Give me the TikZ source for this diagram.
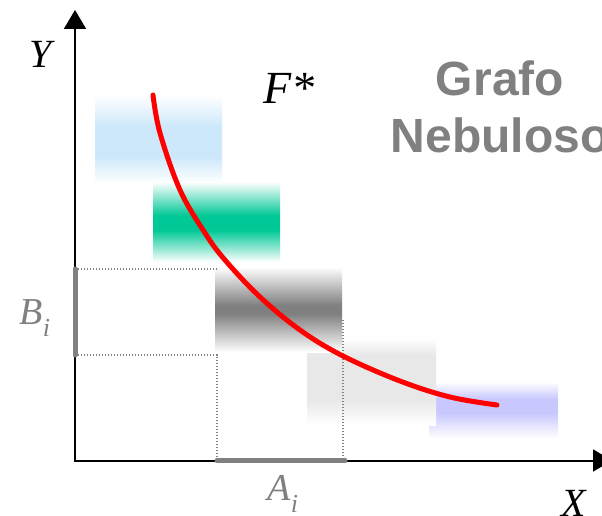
\documentclass[tikz,border=0pt]{standalone}
\usepackage{fontspec}
\setmainfont{Liberation Serif}
\newfontfamily\arialf{Liberation Sans}
\usetikzlibrary{arrows.meta}
\definecolor{fzblue}{RGB}{204,232,250}
\definecolor{fzgreen}{RGB}{0,200,150}
\definecolor{fzdark}{RGB}{128,128,128}
\definecolor{fzlight}{RGB}{232,232,232}
\definecolor{fzlav}{RGB}{200,200,255}
\definecolor{txtgray}{RGB}{128,128,128}
\pgfdeclareverticalshading{shblue}{100bp}{color(0bp)=(white); color(25bp)=(white); color(40bp)=(fzblue); color(57bp)=(fzblue); color(75bp)=(white); color(100bp)=(white)}
\pgfdeclareverticalshading{shgreen}{100bp}{color(0bp)=(white); color(25bp)=(white); color(45bp)=(fzgreen); color(54bp)=(fzgreen); color(75bp)=(white); color(100bp)=(white)}
\pgfdeclareverticalshading{shdark}{100bp}{color(0bp)=(white); color(25bp)=(white); color(47.5bp)=(fzdark); color(52.5bp)=(fzdark); color(75bp)=(white); color(100bp)=(white)}
\pgfdeclareverticalshading{shlight}{100bp}{color(0bp)=(white); color(25bp)=(white); color(39.5bp)=(fzlight); color(65bp)=(fzlight); color(75bp)=(white); color(100bp)=(white)}
\pgfdeclareverticalshading{shlav}{100bp}{color(0bp)=(white); color(25bp)=(white); color(47.5bp)=(fzlav); color(60bp)=(fzlav); color(75bp)=(white); color(100bp)=(white)}
\tikzset{
  axisline/.style={line width=2pt, {Triangle[width=22pt,length=19pt]}-{Triangle[width=22pt,length=19pt]}},
  guide/.style={txtgray, line width=1.3pt, dash pattern=on 1.3pt off 1.7pt},
  interval/.style={txtgray, line width=5pt, line cap=round},
  curve/.style={red, line width=5pt, line cap=round},
  mathlabel/.style={inner sep=0pt, font=\fontsize{40}{40}\selectfont\itshape},
  titlelabel/.style={inner sep=0pt, anchor=base, text=txtgray, font=\arialf\bfseries\fontsize{48}{48}\selectfont}
}
\begin{document}
\begin{tikzpicture}[x=1pt,y=-1pt]
\clip (0,0) rectangle (602,516);
\fill[white] (0,0) rectangle (602,516);
% fuzzy sets
\shade[shading=shlav] (429,382) rectangle (558,438);
\shade[shading=shlight] (307,338) rectangle (436,425);
\shade[shading=shdark] (215,267) rectangle (342,352);
\shade[shading=shblue] (95,95) rectangle (222,183);
\shade[shading=shgreen] (153,182) rectangle (280,262);
% coordinates
\coordinate (O) at (75,460.5);
\coordinate (ytip) at (75,10);
\coordinate (xtip) at (612,460.5);
\coordinate (b1) at (75,269);
\coordinate (b2) at (75,355);
\coordinate (a1) at (217,460.5);
\coordinate (a2) at (345,460.5);
\coordinate (c1) at (217,269);
\coordinate (c2) at (217,355);
\coordinate (c3) at (343,320);
\coordinate (c4) at (343,460.5);
% guides
\draw[guide] (b1) -- (c1);
\draw[guide] (b2) -- (c2) -- (a1);
\draw[guide] (c3) -- (c4);
% axes
\draw[axisline] (ytip) -- (O) -- (xtip);
% intervals
\draw[interval] (b1) -- (b2);
\draw[interval] (a1) -- (a2);
% curve
\draw[curve] plot[smooth, tension=0.6] coordinates {(153,95) (160,133) (180,190) (205,233) (225,260) (260,297) (300,330) (343,356) (400,381) (450,397) (497,405)};
% labels
\node[mathlabel] (ylab) at (41,54) {Y};
\node[mathlabel, font=\fontsize{46}{46}\selectfont\itshape] (flab) at (289,88) {F*};
\node[mathlabel, text=txtgray, font=\fontsize{38}{38}\selectfont\itshape] (blab) at (35,318) {B\raisebox{-0.3em}{\fontsize{26}{26}\selectfont i}};
\node[mathlabel, text=txtgray, font=\fontsize{38}{38}\selectfont\itshape] (alab) at (283,494) {A\raisebox{-0.3em}{\fontsize{26}{26}\selectfont i}};
\node[mathlabel] (xlab) at (574,503) {X};
\node[titlelabel] (t1) at (500,95.5) {Grafo};
\node[titlelabel] (t2) at (500,153) {Nebuloso};
\end{tikzpicture}
\end{document}
